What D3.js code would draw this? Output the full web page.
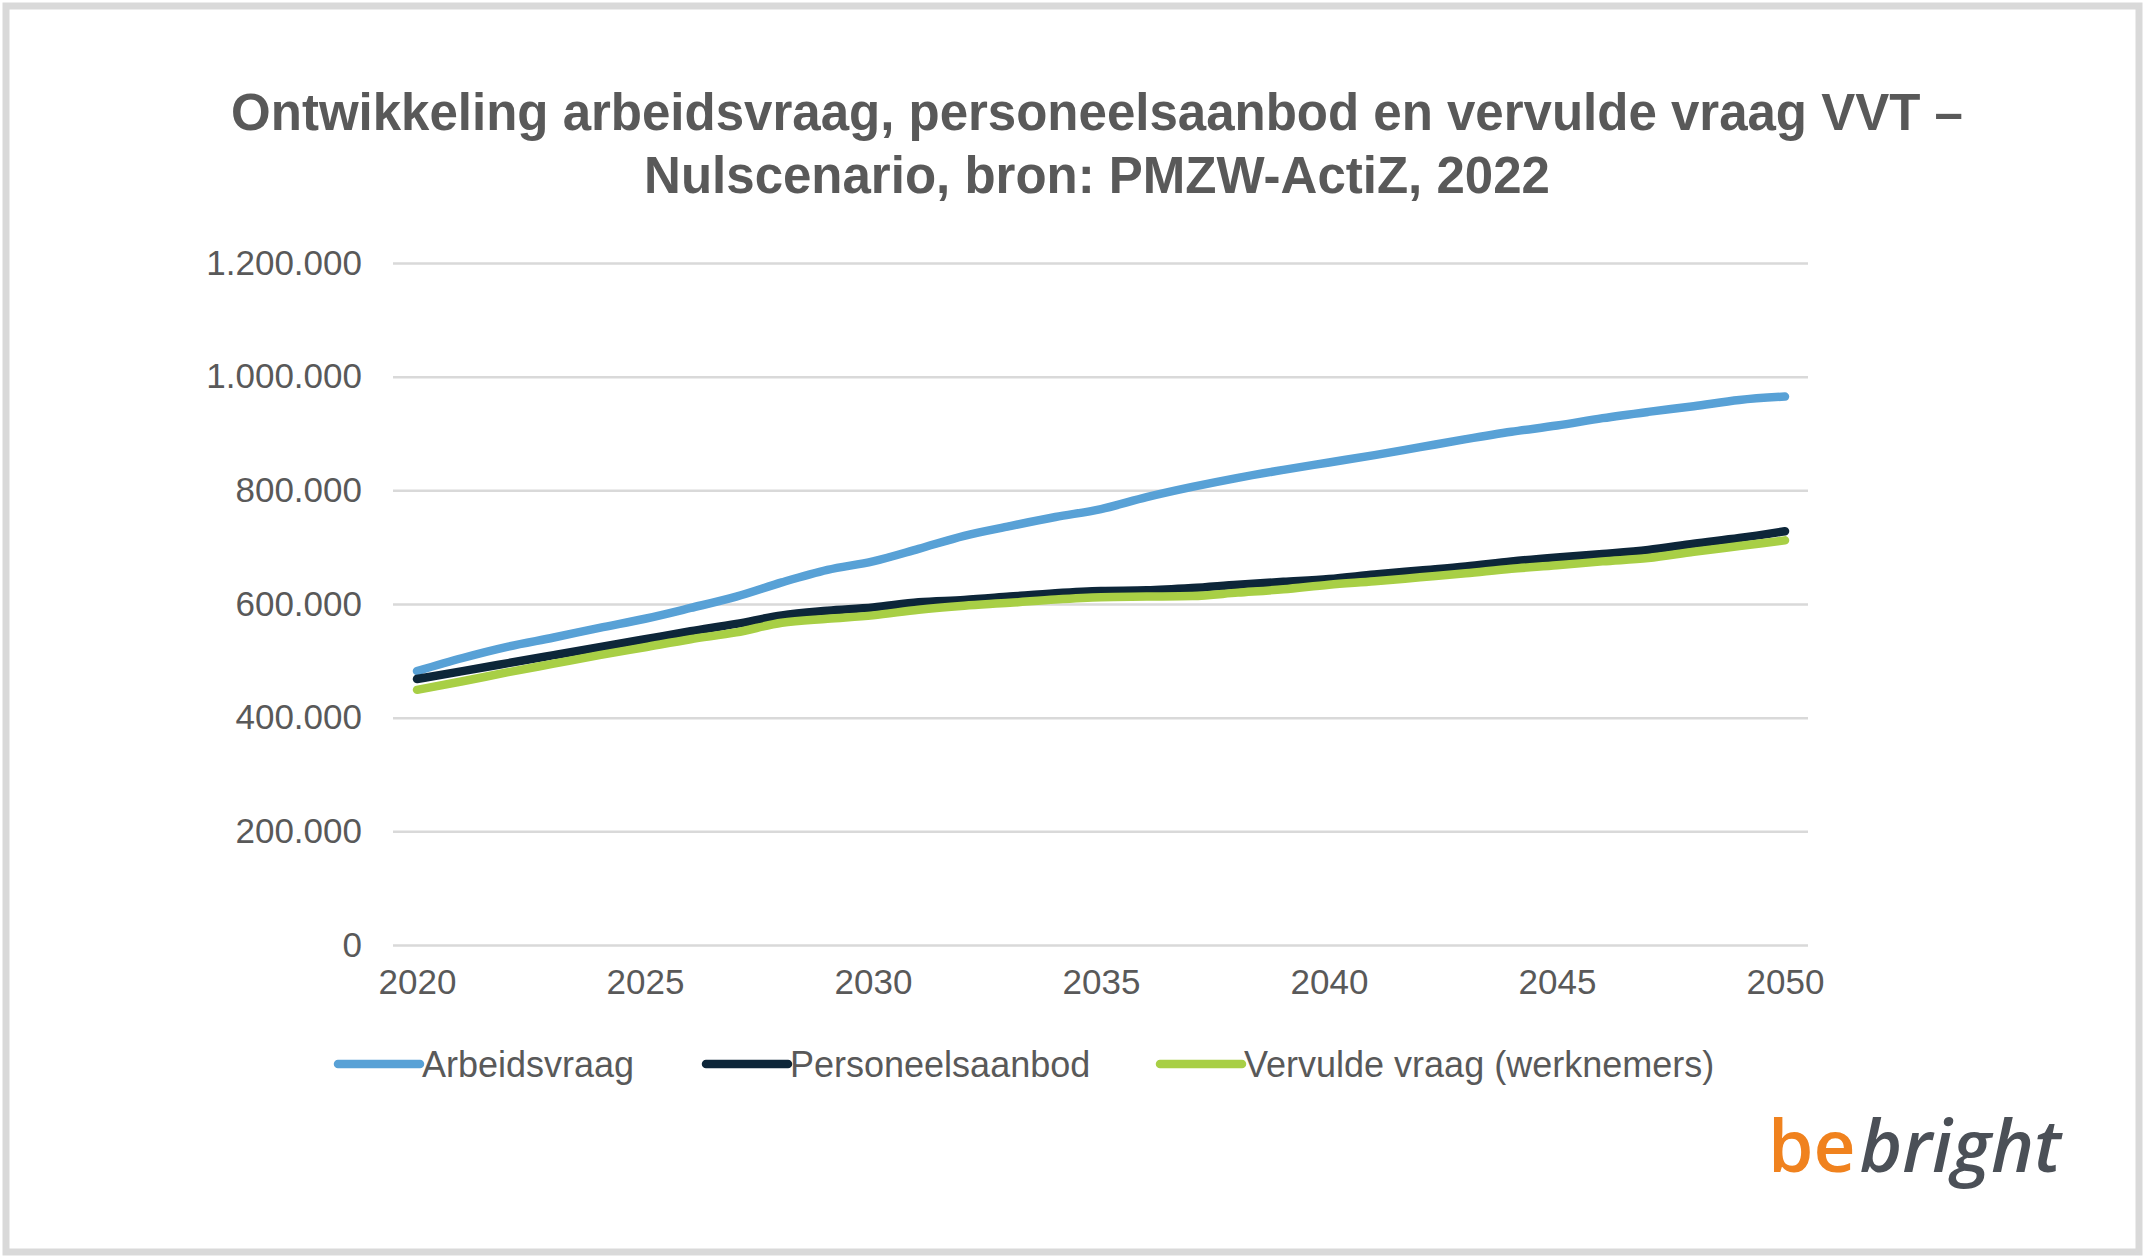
<!DOCTYPE html>
<html>
    <head>
        <title></title>
        <script src="https://d3js.org/d3.v7.min.js"></script>
    </head>

    <body>
        <svg id="chart" width="2145" height="1260"></svg>
    </body>

    <script>

        // data (values per year)
        var years = d3.range(2020, 2051)
        var arbeidsvraag = [482, 505, 525, 541, 558, 574, 593, 613, 638, 660, 675, 697, 720, 737, 753, 767,
            788, 806, 822, 836, 849, 862, 876, 890, 903, 914, 927, 938, 948, 959, 965]
        var personeelsaanbod = [468, 482, 496, 510, 524, 538, 552, 565, 580, 588, 594, 603, 607, 613, 619, 623,
            624, 628, 634, 639, 644, 652, 659, 666, 675, 682, 688, 695, 706, 716, 728]
        var vervuldeVraag = [449, 464, 480, 495, 510, 524, 538, 550, 567, 574, 580, 590, 597, 602, 608, 612,
            613, 614, 620, 626, 634, 640, 647, 654, 662, 668, 675, 681, 692, 702, 712]
        var seriesNames = ["Arbeidsvraag", "Personeelsaanbod", "Vervulde vraag (werknemers)"]
        var seriesColors = ["#58a1d6", "#0d2639", "#a8cf45"]
        var yTicks = [0, 200000, 400000, 600000, 800000, 1000000, 1200000]
        var xTicks = [2020, 2025, 2030, 2035, 2040, 2045, 2050]
        var titleLines = ["Ontwikkeling arbeidsvraag, personeelsaanbod en vervulde vraag VVT \u2013",
            "Nulscenario, bron: PMZW-ActiZ, 2022"]

        var allSeries = [arbeidsvraag, personeelsaanbod, vervuldeVraag].map(function(vals, i) {
            return {name: seriesNames[i], color: seriesColors[i],
                values: vals.map(function(v, j) { return {year: years[j], value: v * 1000} })}
        })

        var svg = d3.select("#chart")
        var textColor = "#595959"
        var font = "'Liberation Sans', Arial, sans-serif"

        // frame
        svg.append("rect")
        .attr("x", 0).attr("y", 0).attr("width", 2145).attr("height", 1260)
        .attr("fill", "#fff")
        svg.append("rect")
        .attr("x", 6).attr("y", 6).attr("width", 2133).attr("height", 1246)
        .attr("fill", "none").attr("stroke", "#d9d9d9").attr("stroke-width", 7)

        // title
        svg.selectAll(".title")
        .data(titleLines)
        .enter()
        .append("text")
        .attr("class", "title")
        .attr("x", 1097)
        .attr("y", function(d, i) { return 130 + i * 63 })
        .attr("text-anchor", "middle")
        .attr("font-family", font)
        .attr("font-weight", "bold")
        .attr("font-size", 51)
        .attr("fill", textColor)
        .text(function(d) { return d })

        // scales
        var gridLeft = 393, gridRight = 1808
        var x = d3.scaleLinear()
        .domain([2020, 2050])
        .range([417, 1785])
        var y = d3.scaleLinear()
        .domain([0, 1200000])
        .range([945, 263])

        var nl = d3.formatLocale({decimal: ",", thousands: ".", grouping: [3], currency: ["€", ""]})
        var fmt = nl.format(",.0f")

        // y axis with gridlines
        var yAxis = svg.append("g")
        .attr("transform", "translate(" + gridLeft + ",0)")
        .call(d3.axisLeft(y).tickValues(yTicks).tickFormat(fmt)
            .tickSize(-(gridRight - gridLeft)).tickPadding(31))
        yAxis.select(".domain").remove()
        yAxis.selectAll("line").attr("stroke", "#d9d9d9").attr("stroke-width", 2.5)
        yAxis.selectAll("text")
        .attr("font-family", font).attr("font-size", 35).attr("fill", textColor)

        // x axis labels
        var xAxis = svg.append("g")
        .attr("transform", "translate(0," + y(0) + ")")
        .call(d3.axisBottom(x).tickValues(xTicks).tickFormat(d3.format("d")).tickSize(0).tickPadding(24))
        xAxis.select(".domain").remove()
        xAxis.selectAll("text")
        .attr("font-family", font).attr("font-size", 35).attr("fill", textColor)

        // lines
        var line = d3.line()
        .x(function(d) { return x(d.year) })
        .y(function(d) { return y(d.value) })
        .curve(d3.curveMonotoneX)

        svg.selectAll(".series")
        .data(allSeries)
        .enter()
        .append("path")
        .attr("class", "series")
        .attr("fill", "none")
        .attr("stroke", function(d) { return d.color })
        .attr("stroke-width", 8.5)
        .attr("stroke-linecap", "round")
        .attr("stroke-linejoin", "round")
        .attr("d", function(d) { return line(d.values) })

        // legend
        var legendX = [338, 706, 1160]
        var legend = svg.selectAll(".legend")
        .data(allSeries)
        .enter()
        .append("g")
        .attr("class", "legend")
        .attr("transform", function(d, i) { return "translate(" + legendX[i] + ",1064)" })
        legend.append("line")
        .attr("x1", 0).attr("x2", 82)
        .attr("stroke", function(d) { return d.color })
        .attr("stroke-width", 8.5)
        .attr("stroke-linecap", "round")
        legend.append("text")
        .attr("x", 84)
        .attr("dy", "0.35em")
        .attr("font-family", font).attr("font-size", 36).attr("fill", textColor)
        .text(function(d) { return d.name })

        // logo
        var logo = svg.append("text")
        .attr("x", 1768)
        .attr("y", 1172)
        .attr("font-family", "'Open Sans', sans-serif")
        .attr("font-size", 73)
        logo.append("tspan").attr("fill", "#f0821e").attr("font-weight", 600).text("be")
        logo.append("tspan").attr("fill", "#4b5057").attr("font-weight", 600)
        .attr("font-style", "italic").attr("dx", 4).text("bright")
    </script>

    <style>
        body { margin: 0; background: #fff; }
    </style>
</html>
